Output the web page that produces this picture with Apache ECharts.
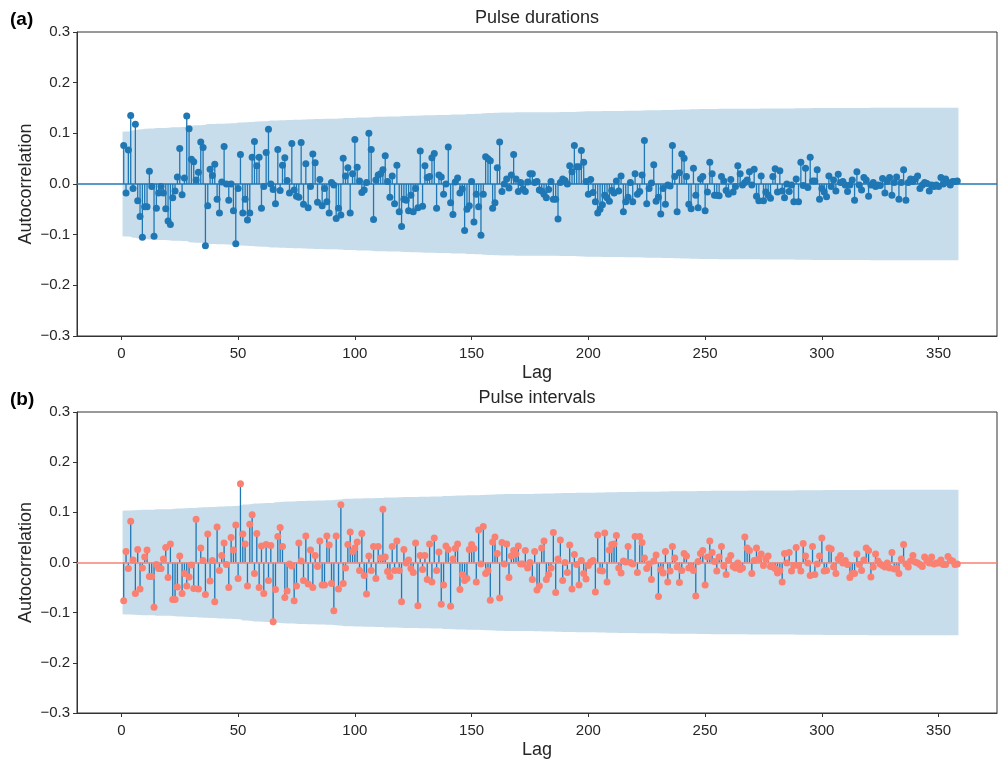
<!DOCTYPE html>
<html>
<head>
<meta charset="utf-8">
<title>Pulse ACF</title>
<script src="https://cdn.jsdelivr.net/npm/echarts@6.0.0/dist/echarts.min.js"></script>
<style>
html, body { margin: 0; padding: 0; background: #fff; }
#chart { width: 999px; height: 760px; }
</style>
</head>
<body>
<div id="chart"></div>
<script>
'use strict';
// autocorrelation of pulse durations, lags 1..358
var durations = [
  0.076, -0.018, 0.067, 0.135, -0.009, 0.118, -0.033, -0.064, -0.105, -0.045,
  -0.045, 0.025, -0.005, -0.103, -0.048, -0.018, -0.005, -0.018, -0.049, -0.073,
  -0.080, -0.027, -0.014, 0.014, 0.070, -0.021, 0.012, 0.134, 0.109, 0.049,
  0.044, 0.008, 0.023, 0.083, 0.072, -0.122, -0.043, 0.029, 0.017, 0.039,
  -0.030, -0.057, 0.004, 0.074, 0.000, -0.032, 0.000, -0.053, -0.118, -0.009,
  0.058, -0.057, -0.030, -0.071, -0.057, 0.053, 0.084, 0.036, 0.053, -0.048,
  -0.005, 0.062, 0.108, 0.000, -0.011, -0.039, 0.068, -0.013, 0.037, 0.052,
  0.007, -0.018, 0.080, -0.012, -0.024, -0.026, 0.082, -0.040, 0.040, -0.047,
  -0.005, 0.059, 0.042, -0.036, 0.009, -0.043, -0.009, -0.035, -0.057, 0.003,
  -0.002, -0.068, -0.048, -0.061, 0.051, 0.016, 0.032, -0.057, 0.020, 0.088,
  0.033, 0.006, -0.017, -0.012, 0.003, 0.100, 0.068, -0.070, 0.008, 0.018,
  0.020, 0.028, 0.056, 0.005, -0.026, 0.016, -0.039, 0.037, -0.055, -0.084,
  -0.030, -0.032, -0.053, -0.022, -0.055, -0.009, -0.047, 0.065, -0.044, 0.036,
  0.013, 0.015, 0.052, 0.060, -0.048, 0.018, 0.014, -0.020, 0.000, 0.073,
  -0.037, -0.060, 0.004, 0.012, -0.018, -0.010, -0.092, -0.050, -0.043, 0.005,
  -0.075, -0.020, -0.045, -0.101, -0.020, 0.054, 0.050, 0.046, -0.048, -0.037,
  0.032, 0.083, -0.015, 0.000, 0.010, -0.008, 0.018, 0.058, 0.010, -0.015,
  0.003, -0.010, -0.015, 0.004, 0.020, 0.020, 0.003, 0.005, -0.012, -0.014,
  -0.020, -0.027, -0.011, 0.005, -0.030, -0.030, -0.069, 0.003, 0.010, 0.007,
  0.000, 0.036, 0.024, 0.076, 0.034, 0.034, 0.066, 0.043, 0.005, -0.020,
  0.009, -0.017, -0.035, -0.057, -0.050, -0.041, -0.022, -0.027, -0.034, -0.013,
  -0.018, 0.006, -0.014, 0.016, -0.055, -0.035, -0.026, 0.003, -0.035, 0.020,
  -0.020, -0.015, 0.018, 0.086, -0.039, -0.009, 0.002, 0.038, -0.034, -0.026,
  -0.059, -0.009, -0.040, -0.002, -0.004, 0.076, 0.015, -0.055, 0.022, 0.059,
  0.051, 0.015, -0.040, -0.049, 0.031, -0.022, -0.047, 0.010, 0.015, -0.053,
  -0.016, 0.043, 0.020, -0.022, -0.022, -0.023, 0.015, 0.006, -0.013, -0.020,
  0.009, -0.016, -0.005, 0.036, 0.020, -0.002, 0.003, 0.008, 0.024, -0.002,
  0.029, -0.024, -0.033, 0.016, -0.033, -0.016, -0.022, -0.028, 0.015, 0.030,
  -0.016, 0.026, -0.014, -0.027, 0.000, -0.015, -0.002, -0.035, 0.010, -0.035,
  0.043, -0.003, 0.031, -0.007, 0.053, 0.006, 0.006, 0.028, -0.030, -0.009,
  -0.016, -0.025, 0.016, -0.005, 0.008, -0.014, 0.019, 0.003, 0.005, -0.002,
  -0.015, -0.002, 0.008, -0.032, 0.024, -0.002, -0.012, 0.013, 0.008, -0.024,
  -0.002, 0.003, -0.005, -0.002, -0.003, 0.011, -0.018, 0.005, 0.013, -0.022,
  0.003, 0.014, -0.030, 0.003, 0.028, -0.032, 0.003, 0.010, 0.005, 0.010,
  0.016, -0.009, -0.002, 0.003, 0.001, -0.014, -0.002, -0.005, -0.002, -0.005,
  0.013, 0.000, 0.010, 0.003, -0.002, 0.005, 0.005, 0.006
];
// autocorrelation of pulse intervals, lags 1..358
var intervals = [
  -0.076, 0.022, -0.012, 0.082, 0.005, -0.062, 0.026, -0.053, -0.011, 0.011,
  0.025, -0.028, -0.028, -0.089, -0.004, -0.012, -0.012, 0.007, 0.030, -0.030,
  0.037, -0.074, -0.074, -0.049, 0.013, -0.062, -0.022, -0.047, -0.029, -0.005,
  -0.052, 0.086, -0.053, 0.029, 0.004, -0.064, 0.057, -0.037, 0.004, -0.078,
  0.071, -0.016, 0.014, 0.039, -0.004, -0.050, 0.050, 0.025, 0.075, -0.032,
  0.157, 0.057, 0.037, -0.047, 0.076, 0.095, -0.022, 0.058, -0.050, 0.033,
  -0.062, 0.036, -0.036, 0.034, -0.118, -0.054, 0.052, 0.070, 0.032, -0.070,
  -0.057, -0.003, -0.007, -0.076, -0.047, 0.039, 0.003, -0.036, 0.053, -0.043,
  0.025, -0.050, 0.014, -0.008, 0.043, -0.045, -0.045, 0.053, 0.035, -0.042,
  -0.096, 0.053, -0.053, 0.115, -0.042, -0.011, 0.036, 0.061, 0.022, 0.029,
  0.041, -0.016, 0.058, -0.026, -0.063, 0.013, -0.016, 0.032, -0.032, 0.032,
  0.009, 0.106, 0.011, -0.018, -0.028, 0.032, -0.016, 0.043, -0.016, -0.078,
  0.026, -0.001, 0.005, -0.012, -0.020, 0.039, -0.086, 0.014, -0.014, 0.014,
  -0.034, 0.037, -0.039, 0.049, -0.016, 0.021, -0.083, -0.045, 0.033, 0.026,
  -0.087, 0.007, 0.028, 0.037, -0.054, -0.024, -0.036, -0.032, 0.026, 0.036,
  0.028, -0.039, 0.065, -0.003, 0.072, -0.022, -0.016, -0.075, 0.041, 0.051,
  0.018, -0.071, 0.040, -0.003, 0.037, -0.030, 0.013, 0.024, 0.017, 0.033,
  -0.003, -0.003, 0.024, -0.011, 0.000, -0.034, 0.022, -0.055, -0.047, 0.029,
  0.043, -0.034, -0.024, -0.011, 0.060, -0.060, 0.007, 0.045, -0.036, 0.000,
  -0.020, 0.035, -0.053, 0.016, -0.004, -0.045, 0.004, -0.022, -0.033, -0.006,
  0.001, 0.004, -0.059, 0.055, -0.016, -0.017, 0.059, -0.039, 0.025, 0.036,
  0.037, 0.054, -0.011, -0.021, 0.003, 0.001, 0.032, 0.000, -0.003, 0.052,
  -0.020, 0.052, 0.040, 0.009, -0.012, -0.003, -0.034, 0.003, 0.015, -0.068,
  -0.014, -0.021, 0.022, -0.039, -0.017, 0.032, 0.009, -0.009, -0.040, -0.016,
  0.018, 0.013, -0.011, -0.009, -0.016, -0.067, 0.002, 0.018, 0.024, -0.045,
  0.011, 0.043, 0.020, 0.002, -0.017, 0.011, 0.032, -0.007, -0.024, 0.005,
  0.014, -0.008, -0.011, -0.001, -0.014, -0.011, 0.051, 0.029, 0.024, -0.022,
  0.004, 0.029, 0.007, 0.017, -0.006, 0.007, 0.013, -0.008, -0.009, -0.012,
  -0.021, -0.016, -0.039, 0.018, -0.001, 0.020, -0.017, -0.006, 0.030, -0.006,
  -0.017, 0.038, 0.013, -0.001, -0.026, 0.032, -0.024, -0.003, 0.013, 0.049,
  -0.017, -0.016, 0.029, 0.027, -0.009, -0.022, 0.007, 0.014, -0.001, 0.004,
  -0.004, -0.030, -0.022, -0.022, 0.017, -0.004, -0.016, 0.005, 0.029, 0.024,
  -0.029, -0.009, 0.017, 0.003, -0.003, -0.006, -0.009, -0.001, -0.011, 0.020,
  -0.013, -0.011, -0.022, 0.007, 0.036, -0.003, -0.009, 0.003, 0.014, 0.001,
  -0.001, -0.004, -0.008, 0.011, 0.003, -0.001, 0.011, -0.003, -0.001, -0.001,
  0.005, -0.004, -0.004, 0.012, 0.005, 0.003, -0.004, -0.003
];
var titles = ['Pulse durations', 'Pulse intervals'];
var letters = ['(a)', '(b)'];
var xTicks = [0, 50, 100, 150, 200, 250, 300, 350];
var nobs = 362;   // sample size behind the 95% band

var FONT = '"Liberation Sans", Arial, Helvetica, sans-serif';
var TXT = '#262626';
var C0 = '#1f77b4';
var markerColors = ['#1f77b4', '#fa8072'];
var zeroColors = ['#1f77b4', '#fa8072'];

function toPoints(acf) {
  return acf.map(function (v, i) { return [i + 1, v]; });
}

// Bartlett's formula, same as statsmodels plot_acf
function confBand(acf) {
  var out = [], s = 0;
  for (var i = 0; i < acf.length; i++) {
    if (i > 0) s += acf[i - 1] * acf[i - 1];
    var b = 1.96 * Math.sqrt((1 + 2 * s) / nobs);
    var x = i + 1;
    if (i === 0) x = 0.5;
    if (i === acf.length - 1) x = acf.length + 0.5;
    out.push([x, b]);
  }
  return out;
}

// whole band drawn as one polygon, only on the first item
function bandItem(band) {
  return function (params, api) {
    if (params.dataIndex !== 0) return null;
    var pts = [], i;
    for (i = 0; i < band.length; i++) pts.push(api.coord([band[i][0], band[i][1]]));
    for (i = band.length - 1; i >= 0; i--) pts.push(api.coord([band[i][0], -band[i][1]]));
    return {
      type: 'polygon',
      shape: { points: pts },
      style: { fill: 'rgba(31,119,180,0.25)' }
    };
  };
}

function stemItem(params, api) {
  var p0 = api.coord([api.value(0), 0]);
  var p1 = api.coord([api.value(0), api.value(1)]);
  return {
    type: 'line',
    shape: { x1: p0[0], y1: p0[1], x2: p1[0], y2: p1[1] },
    style: { stroke: C0, lineWidth: 1.3 }
  };
}

function fmtY(v) {
  var r = Math.round(v * 10) / 10;
  return (r < 0 ? '\u2212' : '') + Math.abs(r).toFixed(1);
}

var tops = [32, 412];
var grids = [], xAxes = [], yAxes = [], series = [], graphics = [];

[durations, intervals].forEach(function (acf, k) {
  grids.push({
    left: 77, right: 2, top: tops[k], height: 304,
    show: true, borderColor: '#333', borderWidth: 1, backgroundColor: 'transparent'
  });
  xAxes.push({
    gridIndex: k, type: 'value', min: -19, max: 375, position: 'bottom',
    splitLine: { show: false },
    axisLine: { show: true, onZero: false, lineStyle: { color: '#333', width: 1 } },
    axisTick: { show: true, length: 4, customValues: xTicks, lineStyle: { color: '#333' } },
    axisLabel: { customValues: xTicks, fontSize: 15, color: TXT, margin: 10, fontFamily: FONT },
    name: 'Lag', nameLocation: 'middle', nameGap: 28,
    nameTextStyle: { fontSize: 18, color: TXT, fontFamily: FONT }
  });
  yAxes.push({
    gridIndex: k, type: 'value', min: -0.3, max: 0.3, interval: 0.1, position: 'left',
    splitLine: { show: false },
    axisLine: { show: true, onZero: false, lineStyle: { color: '#333', width: 1 } },
    axisTick: { show: true, length: 4, lineStyle: { color: '#333' } },
    axisLabel: { fontSize: 15, color: TXT, margin: 7, fontFamily: FONT, formatter: fmtY },
    name: 'Autocorrelation', nameLocation: 'middle', nameGap: 42, nameRotate: 90,
    nameMoveOverlap: false,
    nameTextStyle: { fontSize: 18, color: TXT, fontFamily: FONT }
  });

  var band = confBand(acf);
  series.push({
    type: 'custom', xAxisIndex: k, yAxisIndex: k, renderItem: bandItem(band),
    data: band, silent: true, clip: true, z: 1
  });
  series.push({
    type: 'custom', xAxisIndex: k, yAxisIndex: k, renderItem: stemItem,
    data: toPoints(acf), silent: true, z: 2
  });
  series.push({
    type: 'line', xAxisIndex: k, yAxisIndex: k, data: [], z: 3,
    markLine: {
      silent: true, symbol: 'none', label: { show: false },
      lineStyle: { color: zeroColors[k], width: 1.5, type: 'solid' },
      data: [{ yAxis: 0 }]
    }
  });
  series.push({
    type: 'scatter', xAxisIndex: k, yAxisIndex: k, data: toPoints(acf),
    symbol: 'circle', symbolSize: 7, silent: true,
    itemStyle: { color: markerColors[k], opacity: 1 }, z: 4
  });

  graphics.push({
    type: 'text', x: 537, y: tops[k] - 14,
    style: { text: titles[k], fontSize: 18, fontFamily: FONT, fill: TXT, align: 'center', verticalAlign: 'middle' }
  });
  graphics.push({
    type: 'text', x: 10, y: tops[k] - 12,
    style: { text: letters[k], fontSize: 19, fontWeight: 'bold', fontFamily: FONT, fill: '#000', align: 'left', verticalAlign: 'middle' }
  });
});

var myChart = echarts.init(document.getElementById('chart'), null, { renderer: 'canvas' });
myChart.setOption({
  animation: false,
  backgroundColor: '#fff',
  grid: grids,
  xAxis: xAxes,
  yAxis: yAxes,
  series: series,
  graphic: graphics
});
</script>
</body>
</html>
